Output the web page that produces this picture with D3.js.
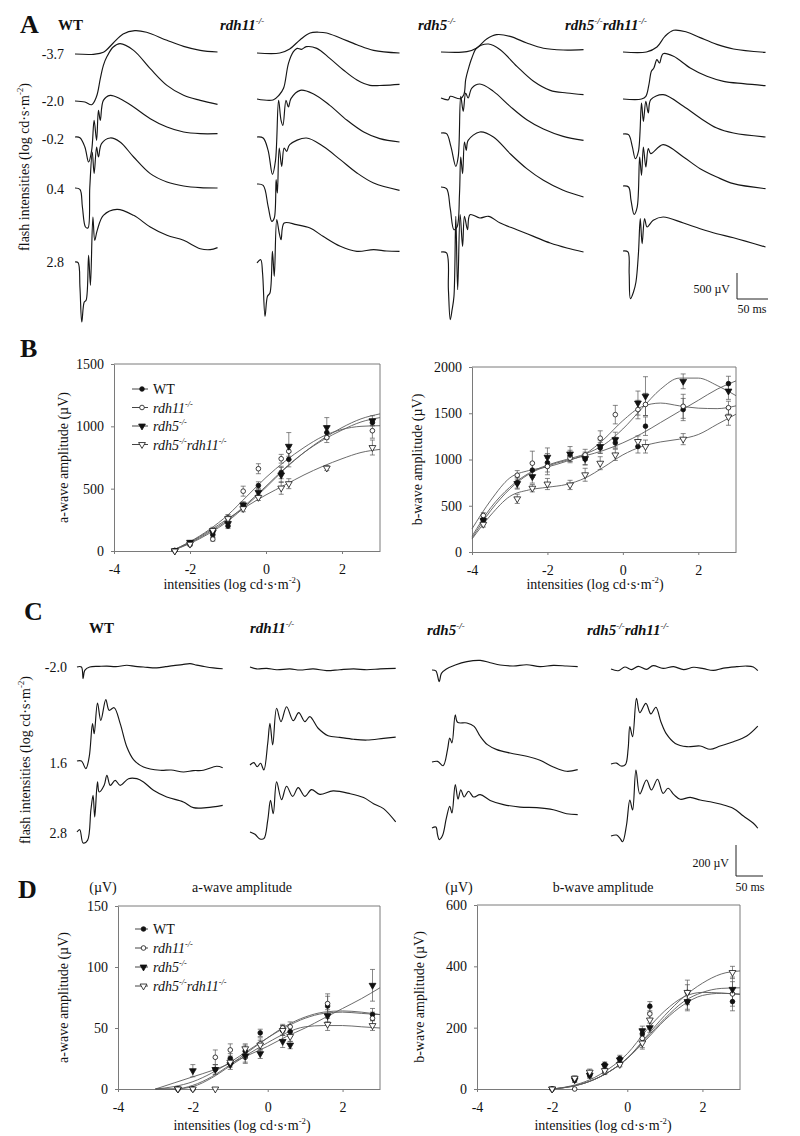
<!DOCTYPE html>
<html><head><meta charset="utf-8">
<script src="https://cdn.jsdelivr.net/npm/d3@7"></script>
<style>body{margin:0;background:#fff} text{font-family:"Liberation Serif","Times New Roman",serif;}</style>
</head><body><svg id="c" width="800" height="1136"></svg>
<script>
// ---------------- DATA ----------------
const genotypes = ['WT','rdh11','rdh5','rdh5rdh11'];
const flashA = ['-3.7','-2.0','-0.2','0.4','2.8'];
const flashC = ['-2.0','1.6','2.8'];

// Panel A scotopic ERG traces: [time ms, amplitude µV]
const traceA_WT = [
 [[0,0],[30,-6],[46,32],[62,212],[78,385],[97,449],[116,417],[149,263],[176,147],[203,71],[231,38]],
 [[0,0],[16,-19],[27,-71],[35,90],[41,429],[46,686],[52,859],[62,1038],[73,1103],[95,974],[122,622],[149,301],[176,109],[203,13],[231,-64]],
 [[0,0],[8,-13],[16,-192],[22,-481],[27,-256],[31,321],[35,-64],[38,513],[41,321],[46,705],[57,801],[73,737],[95,577],[122,353],[149,192],[176,96],[203,64],[231,64]],
 [[0,0],[8,-26],[12,-365],[17,-750],[21,-769],[24,19],[28,692],[31,276],[35,788],[38,596],[43,853],[57,962],[73,885],[95,596],[122,276],[149,115],[176,38],[203,6],[231,0]],
 [[0,0],[5,-13],[8,-481],[11,-1154],[15,-769],[18,-737],[22,128],[25,-449],[29,865],[32,417],[36,609],[46,897],[68,1013],[95,897],[122,673],[149,513],[176,417],[203,256],[219,237],[231,276]]
];
const traceA_rdh11 = [
 [[0,0],[37,0],[53,77],[70,256],[86,385],[100,400],[113,385],[135,288],[162,160],[189,51],[231,0]],
 [[0,0],[26,-19],[36,77],[43,205],[51,686],[59,910],[65,974],[72,955],[80,1006],[97,974],[118,782],[140,558],[162,365],[183,263],[205,263],[231,282]],
 [[0,0],[10,-19],[18,-256],[25,-718],[30,-449],[35,705],[39,321],[42,224],[47,705],[51,577],[55,737],[70,897],[91,833],[118,609],[146,321],[173,96],[199,-32],[231,-96]],
 [[0,0],[10,-26],[18,-429],[24,-718],[28,-654],[31,83],[33,-173],[36,692],[40,340],[44,692],[48,628],[53,756],[80,885],[107,724],[135,468],[162,212],[189,19],[231,-122]],
 [[0,0],[6,64],[9,-192],[13,-1026],[17,-641],[21,-577],[25,224],[28,-256],[32,833],[36,577],[39,449],[44,769],[64,737],[86,673],[107,513],[135,321],[162,224],[189,256],[210,230],[231,224]]
];
const traceA_rdh5 = [
 [[0,0],[42,6],[58,77],[74,250],[90,333],[112,301],[139,173],[166,71],[198,38],[231,45]],
 [[0,0],[12,-32],[15,32],[31,-13],[37,64],[40,353],[44,545],[50,769],[58,962],[77,1038],[96,929],[123,609],[150,321],[177,147],[204,96],[231,64]],
 [[0,0],[9,-13],[16,-256],[24,-641],[28,-449],[32,705],[36,417],[40,769],[44,673],[50,865],[63,942],[85,801],[112,513],[139,256],[166,77],[198,-64],[231,-141]],
 [[0,0],[9,-32],[15,-417],[21,-821],[26,-769],[30,-128],[32,577],[35,256],[38,865],[41,705],[44,897],[63,1058],[85,962],[112,641],[139,353],[166,128],[198,-64],[231,-192]],
 [[0,0],[9,-19],[12,-724],[15,-1301],[18,-1109],[21,-853],[24,686],[27,-724],[31,718],[35,109],[38,686],[43,429],[47,718],[63,654],[77,686],[96,558],[123,429],[150,301],[177,173],[204,77],[231,0]]
];
const traceA_rdh5rdh11 = [
 [[0,0],[38,0],[55,96],[68,301],[82,417],[103,385],[125,276],[152,147],[179,58],[231,-6]],
 [[0,0],[30,0],[37,51],[42,276],[46,532],[50,596],[55,756],[59,692],[65,872],[82,821],[109,596],[136,436],[163,340],[195,295],[231,256]],
 [[0,0],[9,-13],[15,-237],[20,-474],[25,-333],[30,596],[33,244],[37,628],[41,404],[45,660],[65,756],[98,532],[125,308],[152,115],[179,19],[231,-58]],
 [[0,0],[9,-19],[13,-276],[18,-545],[23,-404],[27,558],[30,205],[33,750],[37,365],[41,718],[45,622],[65,795],[98,558],[125,333],[152,173],[179,45],[231,-51]],
 [[0,0],[8,-19],[10,-436],[12,-917],[17,-788],[21,-596],[25,-51],[28,622],[31,141],[35,622],[39,462],[49,590],[65,654],[98,538],[125,429],[152,333],[179,256],[231,77]]
];

// Panel C photopic ERG traces: [time ms, amplitude µV]
const traceC_WT = [
 [[0,0],[8,0],[11,-75],[14,-22],[23,0],[40,4],[54,6],[70,2],[90,11],[105,4],[120,0],[144,-6],[160,2],[174,9],[190,15],[204,22],[216,12],[228,4],[246,-6],[263,-11]],
 [[0,0],[8,0],[16,-49],[22,26],[28,241],[31,176],[37,374],[43,262],[52,396],[58,327],[67,344],[78,241],[90,90],[102,9],[120,-39],[150,-60],[170,-58],[192,-71],[210,-62],[228,-60],[252,-34],[263,-43]],
 [[0,0],[5,15],[11,-71],[19,-54],[25,140],[29,237],[32,97],[37,323],[40,258],[49,301],[54,366],[60,301],[69,333],[78,301],[93,344],[108,344],[120,323],[138,269],[162,226],[192,194],[210,157],[234,157],[263,172]]
];
const traceC_rdh11 = [
 [[0,6],[12,-6],[30,-2],[48,-11],[72,-6],[90,-13],[114,-6],[138,-17],[162,-11],[187,-6],[211,-11],[235,-6],[263,-2]],
 [[0,0],[7,15],[13,-11],[19,11],[25,-32],[32,140],[36,269],[41,129],[48,366],[56,280],[66,376],[78,286],[88,338],[99,280],[108,312],[123,237],[141,189],[162,178],[187,166],[211,161],[241,172],[263,180]],
 [[0,0],[9,-15],[17,-43],[25,-43],[32,75],[37,204],[42,118],[48,323],[57,209],[66,295],[77,230],[87,286],[99,230],[111,273],[126,243],[150,265],[181,247],[205,222],[223,183],[241,151],[263,65]]
];
const traceC_rdh5 = [
 [[0,0],[7,-6],[13,-75],[17,-22],[26,6],[42,32],[63,54],[87,62],[105,47],[123,32],[147,26],[171,34],[195,22],[219,30],[243,26],[263,22]],
 [[0,0],[10,4],[20,-24],[28,80],[32,155],[36,123],[42,305],[46,256],[63,252],[76,230],[87,166],[100,112],[117,80],[141,58],[171,37],[195,11],[219,-32],[243,-60],[263,-49]],
 [[0,0],[7,6],[10,-43],[13,-75],[19,-49],[26,65],[32,140],[36,97],[42,280],[47,187],[52,247],[58,200],[66,237],[75,200],[87,215],[105,178],[129,151],[159,135],[189,131],[219,118],[243,92],[263,86]]
];
const traceC_rdh5rdh11 = [
 [[0,0],[13,-11],[25,13],[37,-4],[49,17],[64,-2],[76,22],[94,4],[113,15],[131,-4],[149,11],[167,2],[185,-9],[203,6],[227,15],[245,19],[257,13],[265,-11]],
 [[0,0],[10,6],[18,-13],[26,-4],[31,101],[34,241],[39,176],[46,424],[52,331],[63,391],[72,323],[81,366],[90,273],[100,194],[116,133],[137,112],[161,116],[179,95],[197,116],[221,144],[245,181],[265,245]],
 [[0,0],[10,6],[16,-13],[21,-37],[28,71],[34,232],[39,168],[45,426],[52,271],[64,361],[73,297],[84,366],[94,275],[103,308],[114,265],[125,237],[143,249],[161,232],[179,221],[197,206],[221,178],[239,129],[257,82],[265,50]]
];

// Panel B: scotopic amplitudes (log cd·s·m-2 vs µV)
const intensB_a = [-2.4,-2.0,-1.4,-1.0,-0.6,-0.2,0.4,0.6,1.6,2.8];
const aWave_WT        = [5,65,130,200,365,525,630,735,950,1030];
const aWave_rdh11     = [3,50,95,265,480,660,740,800,910,965];
const aWave_rdh5      = [2,70,150,220,370,470,610,840,990,1045];
const aWave_rdh5rdh11 = [0,55,165,260,340,430,505,540,665,830];
const aErr_WT         = [3,10,20,20,25,30,50,60,50,25];
const aErr_rdh11      = [3,8,15,25,40,40,35,40,40,60];
const aErr_rdh5       = [3,10,20,20,25,30,60,110,80,40];
const aErr_rdh5rdh11  = [3,10,25,30,25,25,50,40,20,60];

const intensB_b = [-3.7,-2.8,-2.4,-2.0,-1.4,-1.0,-0.6,-0.2,0.4,0.6,1.6,2.8];
const bWave_WT        = [350,750,885,965,1040,1005,1125,1180,1140,1360,1540,1820];
const bWave_rdh11     = [395,830,960,925,1015,1050,1230,1485,1540,1595,1575,1560];
const bWave_rdh5      = [340,740,815,1025,1060,1010,1140,1215,1610,1685,1845,1740];
const bWave_rdh5rdh11 = [300,575,690,735,725,835,960,1050,1195,1140,1220,1460];
const bErr_WT         = [30,60,80,100,60,60,60,60,70,100,120,80];
const bErr_rdh11      = [30,50,130,90,50,60,80,100,100,120,130,70];
const bErr_rdh5       = [30,60,70,100,80,70,70,80,130,210,80,90];
const bErr_rdh5rdh11  = [30,50,40,60,50,70,70,60,60,70,60,90];

// fitted curves for B
const fitB_a_x = [-2.5,-2,-1.5,-1,-0.5,0,0.5,1,1.5,2,2.5,3];
const fitB_a_WT        = [0,65,150,250,380,520,665,790,890,970,1035,1070];
const fitB_a_rdh11     = [0,75,170,290,440,590,720,830,920,975,1000,1005];
const fitB_a_rdh5      = [0,60,140,240,370,510,660,790,900,990,1060,1100];
const fitB_a_rdh5rdh11 = [0,70,160,260,360,450,530,610,680,740,790,815];
const fitB_b_x = [-4,-3.5,-3,-2.5,-2,-1.5,-1,-0.5,0,0.5,1,1.5,2,2.5,3];
const fitB_b_WT        = [150,450,680,840,930,990,1040,1100,1180,1280,1400,1520,1640,1760,1850];
const fitB_b_rdh11     = [250,560,800,880,920,980,1060,1220,1420,1570,1610,1580,1555,1550,1580];
const fitB_b_rdh5      = [170,480,700,850,940,1000,1060,1160,1330,1550,1760,1880,1880,1800,1690];
const fitB_b_rdh5rdh11 = [140,400,600,670,700,730,800,920,1050,1140,1190,1220,1270,1380,1490];

// Panel D: photopic amplitudes
const intensD_a = [-2.4,-2.0,-1.4,-1.0,-0.6,-0.2,0.4,0.6,1.6,2.8];
const dA_WT        = [0,0,16,25,31,46,48,47,68,61];
const dA_rdh11     = [0,0,26,32,26,37,50,51,70,58];
const dA_rdh5      = [0,15,16,20,27,29,39,36,60,85];
const dA_rdh5rdh11 = [0,0,0,22,33,36,48,43,53,52];
const dAErr_WT        = [0,0,4,4,5,3,4,4,8,5];
const dAErr_rdh11     = [0,0,6,5,5,5,3,4,8,5];
const dAErr_rdh5      = [0,5,4,4,5,4,5,3,5,13];
const dAErr_rdh5rdh11 = [0,0,0,4,4,4,4,4,5,4];

const intensD_b = [-2.0,-1.4,-1.0,-0.6,-0.2,0.4,0.6,1.6,2.8];
const dB_WT        = [0,30,45,80,100,180,270,285,285];
const dB_rdh11     = [0,0,50,55,85,165,245,315,310];
const dB_rdh5      = [0,30,45,75,95,190,200,285,325];
const dB_rdh5rdh11 = [0,35,55,60,80,150,225,315,380];
const dBErr_WT        = [0,8,8,8,10,15,15,30,30];
const dBErr_rdh11     = [0,0,10,8,10,30,20,40,40];
const dBErr_rdh5      = [0,8,10,8,8,15,15,25,40];
const dBErr_rdh5rdh11 = [0,8,10,8,8,20,25,25,20];

const fitD_a_x = [-3,-2.5,-2,-1.5,-1,-0.5,0,0.5,1,1.5,2,2.5,3];
const fitD_a_WT        = [0,0,3,10,20,31,42,52,59,63,64,63,61];
const fitD_a_rdh11     = [0,2,6,13,22,32,42,51,58,62,63,62,61];
const fitD_a_rdh5      = [0,5,10,15,21,28,35,43,50,58,66,74,83];
const fitD_a_rdh5rdh11 = [0,0,2,9,19,29,38,46,51,52,52,51,50];
const fitD_b_x = [-2,-1.5,-1,-0.5,0,0.5,1,1.5,2,2.5,3];
const fitD_b_WT        = [0,8,25,55,100,160,225,275,305,312,310];
const fitD_b_rdh11     = [0,10,30,65,115,190,255,300,315,313,308];
const fitD_b_rdh5      = [0,8,25,55,100,165,230,285,315,328,330];
const fitD_b_rdh5rdh11 = [0,8,25,55,100,170,240,300,345,375,385];

const xTicks = [-4,-2,0,2];

// ---------------- DRAWING ----------------
const svg = d3.select('#c');
svg.append('rect').attr('width',800).attr('height',1136).attr('fill','#fff');
const FONT = '"Liberation Serif","Times New Roman",serif';

function txt(x,y,s,fs,opt={}){
  const t = svg.append('text').attr('x',x).attr('y',y).attr('font-size',fs).attr('fill','#111')
    .attr('font-family',FONT).text(s);
  if(opt.bold) t.attr('font-weight','bold');
  if(opt.anchor) t.attr('text-anchor',opt.anchor);
  if(opt.italic) t.attr('font-style','italic');
  if(opt.rotate) t.attr('transform',`rotate(-90,${x},${y})`);
  return t;
}
const genoParts = {WT:[['WT',0]], rdh11:[['rdh11',1],['-/-',2]], rdh5:[['rdh5',1],['-/-',2]],
  rdh5rdh11:[['rdh5',1],['-/-',2],['rdh11',1],['-/-',2]]};
function geno(name,x,y,fs,bold){
  const t = svg.append('text').attr('x',x).attr('y',y).attr('font-size',fs).attr('fill','#111').attr('font-family',FONT);
  if(bold) t.attr('font-weight','bold');
  let raised=false; const sh=fs*0.4;
  genoParts[name].forEach(([s,k])=>{
    const ts=t.append('tspan').text(s);
    if(k>=1) ts.attr('font-style','italic');
    if(k===2){ ts.attr('font-size',fs*0.6).attr('dy',-sh); raised=true; }
    else if(raised){ ts.attr('dy',sh); raised=false; }
  });
  return t;
}
function logLabel(prefix,x,y,fs,rotate){
  const t = svg.append('text').attr('x',x).attr('y',y).attr('font-size',fs).attr('fill','#111')
     .attr('font-family',FONT).attr('text-anchor','middle');
  if(rotate) t.attr('transform',`rotate(-90,${x},${y})`);
  t.append('tspan').text(prefix+' (log cd·s·m');
  t.append('tspan').text('-2').attr('font-size',fs*0.62).attr('dy',-fs*0.4);
  t.append('tspan').text(')').attr('dy',fs*0.4);
}

// ---- traces ----
const lineGen = (xs,ys)=>d3.line().x(d=>xs(d[0])).y(d=>ys(d[1])).curve(d3.curveCatmullRom.alpha(0.5));
function drawTrace(pts,x0,base,msPx,uvPx){
  const xs=d3.scaleLinear().domain([0,100]).range([x0,x0+100*msPx]);
  const ys=d3.scaleLinear().domain([0,1000]).range([base,base-1000*uvPx]);
  svg.append('path').datum(pts).attr('d',lineGen(xs,ys)).attr('fill','none')
    .attr('stroke','#161616').attr('stroke-width',1.15).attr('stroke-linejoin','round');
}

// Panel A
const A_traces = {WT:traceA_WT, rdh11:traceA_rdh11, rdh5:traceA_rdh5, rdh5rdh11:traceA_rdh5rdh11};
const A_x0 = {WT:75, rdh11:257, rdh5:441, rdh5rdh11:623};
const A_base = {WT:[54,101,137,188,262], rdh11:[53,99,137,184,263], rdh5:[52,98,133,187,252], rdh5rdh11:[52,99,134,186,251]};
genotypes.forEach(g=>A_traces[g].forEach((tr,i)=>drawTrace(tr,A_x0[g],A_base[g][i],0.617,0.052)));
txt(20,33,'A',26,{bold:true});
geno('WT',58,30,15,true); geno('rdh11',220,30,15,true); geno('rdh5',418,30,15,true); geno('rdh5rdh11',565,30,15,true);
const A_labY=[59,106,144,194,267];
flashA.forEach((s,i)=>txt(64,A_labY[i],s,14,{anchor:'end'}));
logLabel('flash intensities',29,167,14,true);
// scale bar A
svg.append('path').attr('d','M737,273V299H768').attr('fill','none').attr('stroke','#222').attr('stroke-width',1);
txt(730,293,'500 µV',12,{anchor:'end'});
txt(752,313,'50 ms',12,{anchor:'middle'});

// Panel C
const C_traces = {WT:traceC_WT, rdh11:traceC_rdh11, rdh5:traceC_rdh5, rdh5rdh11:traceC_rdh5rdh11};
const C_x0 = {WT:77, rdh11:250, rdh5:432, rdh5rdh11:611};
const C_base = {WT:[667,761,832], rdh11:[668,765,832], rdh5:[670,762,828], rdh5rdh11:[669,764,836]};
genotypes.forEach(g=>C_traces[g].forEach((tr,i)=>drawTrace(tr,C_x0[g],C_base[g][i],0.554,0.155)));
txt(24,620,'C',26,{bold:true});
geno('WT',89,633,15,true); geno('rdh11',250,633,15,true); geno('rdh5',427,635,15,true); geno('rdh5rdh11',587,635,15,true);
const C_labY=[672,768,838];
flashC.forEach((s,i)=>txt(67,C_labY[i],s,14,{anchor:'end'}));
logLabel('flash intensities',30,760,14,true);
svg.append('path').attr('d','M736,845V876H763').attr('fill','none').attr('stroke','#222').attr('stroke-width',1);
txt(729,867,'200 µV',12,{anchor:'end'});
txt(750,891,'50 ms',12,{anchor:'middle'});

// ---- amplitude plots ----
const markerSpec = {
  WT:{type:d3.symbolCircle,fill:'#111',size:17,rot:0},
  rdh11:{type:d3.symbolCircle,fill:'#fff',size:17,rot:0},
  rdh5:{type:d3.symbolTriangle,fill:'#111',size:20,rot:180},
  rdh5rdh11:{type:d3.symbolTriangle,fill:'#fff',size:20,rot:180}
};
function marker(g,name,x,y){
  const m=markerSpec[name];
  g.append('path').attr('d',d3.symbol().type(m.type).size(m.size)())
    .attr('transform',`translate(${x},${y}) rotate(${m.rot})`)
    .attr('fill',m.fill).attr('stroke','#111').attr('stroke-width',0.8);
}
function plot(o){
  const x=d3.scaleLinear().domain([-4,3]).range([o.x0,o.x1]);
  const y=d3.scaleLinear().domain([0,o.ymax]).range([o.yb,o.yt]);
  const g=svg.append('g');
  const ax=g.append('g').attr('transform',`translate(0,${o.yb})`)
    .call(d3.axisBottom(x).tickValues(xTicks).tickFormat(d=>String(d)).tickSize(3).tickPadding(10).tickSizeOuter(0));
  const ay=g.append('g').attr('transform',`translate(${o.x0},0)`)
    .call(d3.axisLeft(y).tickValues(o.yticks).tickFormat(d=>String(d)).tickSize(3).tickPadding(7).tickSizeOuter(0));
  [ax,ay].forEach(a=>{a.attr('font-family',FONT).attr('font-size',14);
    a.selectAll('path,line').attr('stroke','#7a7a7a');
    a.selectAll('text').attr('fill','#111');});
  g.append('path').attr('d',`M${o.x0},${o.yt}H${o.x1}V${o.yb}`).attr('fill','none').attr('stroke','#7a7a7a');
  // fits
  genotypes.forEach(gn=>{
    const pts=o.fitX.map((v,i)=>[v,o.fits[gn][i]]);
    g.append('path').datum(pts).attr('d',d3.line().x(d=>x(d[0])).y(d=>y(d[1])).curve(d3.curveMonotoneX))
      .attr('fill','none').attr('stroke','#5a5a5a').attr('stroke-width',0.9);
  });
  // error bars
  genotypes.forEach(gn=>{
    o.xs.forEach((xv,i)=>{
      const v=o.vals[gn][i], e=o.errs[gn][i]; if(!e) return;
      const px=x(xv);
      g.append('path').attr('d',`M${px},${y(v-e)}V${y(v+e)}M${px-2.5},${y(v+e)}H${px+2.5}M${px-2.5},${y(v-e)}H${px+2.5}`)
        .attr('stroke','#555').attr('stroke-width',0.7).attr('fill','none');
    });
  });
  genotypes.forEach(gn=>o.xs.forEach((xv,i)=>marker(g,gn,x(xv),y(o.vals[gn][i]))));
  // labels
  logLabel('intensities',o.xlabX,o.xlabY,14,false);
  txt(o.ylabX,(o.yb+o.yt)/2,o.ylab,14,{anchor:'middle',rotate:true});
  if(o.legend){
    const L=o.legend;
    genotypes.forEach((gn,i)=>{
      const yy=L.y+i*L.dy;
      g.append('line').attr('x1',L.x).attr('x2',L.x+L.w).attr('y1',yy).attr('y2',yy).attr('stroke','#444');
      marker(g,gn,L.x+L.w/2+2,yy);
      geno(gn,L.x+L.w+5,yy+5,14,false);
    });
  }
}

plot({x0:114,x1:380,yb:551,yt:364,ymax:1500,yticks:[0,500,1000,1500],xs:intensB_a,
  vals:{WT:aWave_WT,rdh11:aWave_rdh11,rdh5:aWave_rdh5,rdh5rdh11:aWave_rdh5rdh11},
  errs:{WT:aErr_WT,rdh11:aErr_rdh11,rdh5:aErr_rdh5,rdh5rdh11:aErr_rdh5rdh11},
  fitX:fitB_a_x,fits:{WT:fitB_a_WT,rdh11:fitB_a_rdh11,rdh5:fitB_a_rdh5,rdh5rdh11:fitB_a_rdh5rdh11},
  xlabX:232,xlabY:589,ylabX:68,ylab:'a-wave amplitude  (µV)',legend:{x:132,y:389,dy:18.5,w:16}});
plot({x0:472,x1:736,yb:552,yt:367,ymax:2000,yticks:[0,500,1000,1500,2000],xs:intensB_b,
  vals:{WT:bWave_WT,rdh11:bWave_rdh11,rdh5:bWave_rdh5,rdh5rdh11:bWave_rdh5rdh11},
  errs:{WT:bErr_WT,rdh11:bErr_rdh11,rdh5:bErr_rdh5,rdh5rdh11:bErr_rdh5rdh11},
  fitX:fitB_b_x,fits:{WT:fitB_b_WT,rdh11:fitB_b_rdh11,rdh5:fitB_b_rdh5,rdh5rdh11:fitB_b_rdh5rdh11},
  xlabX:595,xlabY:589,ylabX:422,ylab:'b-wave amplitude (µV)'});
plot({x0:118,x1:380,yb:1089,yt:906,ymax:150,yticks:[0,50,100,150],xs:intensD_a,
  vals:{WT:dA_WT,rdh11:dA_rdh11,rdh5:dA_rdh5,rdh5rdh11:dA_rdh5rdh11},
  errs:{WT:dAErr_WT,rdh11:dAErr_rdh11,rdh5:dAErr_rdh5,rdh5rdh11:dAErr_rdh5rdh11},
  fitX:fitD_a_x,fits:{WT:fitD_a_WT,rdh11:fitD_a_rdh11,rdh5:fitD_a_rdh5,rdh5rdh11:fitD_a_rdh5rdh11},
  xlabX:242,xlabY:1130,ylabX:68,ylab:'a-wave amplitude  (µV)',legend:{x:135,y:929,dy:19,w:13}});
plot({x0:477,x1:740,yb:1089,yt:905,ymax:600,yticks:[0,200,400,600],xs:intensD_b,
  vals:{WT:dB_WT,rdh11:dB_rdh11,rdh5:dB_rdh5,rdh5rdh11:dB_rdh5rdh11},
  errs:{WT:dBErr_WT,rdh11:dBErr_rdh11,rdh5:dBErr_rdh5,rdh5rdh11:dBErr_rdh5rdh11},
  fitX:fitD_b_x,fits:{WT:fitD_b_WT,rdh11:fitD_b_rdh11,rdh5:fitD_b_rdh5,rdh5rdh11:fitD_b_rdh5rdh11},
  xlabX:603,xlabY:1130,ylabX:424,ylab:'b-wave amplitude (µV)'});

txt(20,357,'B',26,{bold:true});
txt(18,898,'D',26,{bold:true});
txt(103,892,'(µV)',14,{anchor:'middle'});
txt(242,892,'a-wave amplitude',14,{anchor:'middle'});
txt(459,892,'(µV)',14,{anchor:'middle'});
txt(603,892,'b-wave amplitude',14,{anchor:'middle'});
</script></body></html>
